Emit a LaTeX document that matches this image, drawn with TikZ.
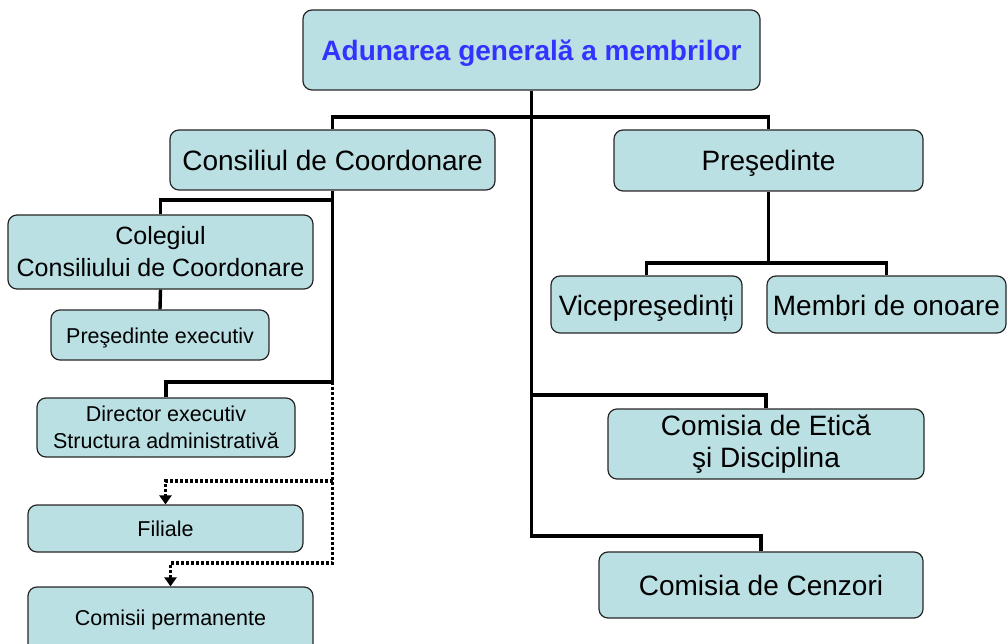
\documentclass[tikz,border=0pt]{standalone}
\usepackage{fontspec}
\setmainfont{Liberation Sans}
\usetikzlibrary{arrows.meta}

\definecolor{boxblue}{RGB}{187,224,227}
\definecolor{titleblue}{RGB}{51,51,255}

\tikzset{
	box/.style={draw=black!85, fill=boxblue, rounded corners=9pt, line width=1.2pt, inner sep=0pt, align=center},
	bigfont/.style={font=\fontsize{28}{32}\selectfont},
	bigone/.style={bigfont, text height=21pt, text depth=0pt},
	midfont/.style={font=\fontsize{25}{32}\selectfont},
	smallfont/.style={font=\fontsize{21.5}{27}\selectfont},
	smallone/.style={smallfont, text height=16.5pt, text depth=0pt},
	link/.style={line width=3.4pt},
	dotlink/.style={line width=3.4pt, dash pattern=on 3pt off 2pt, -{Triangle[width=12pt,length=9pt]}}
}

\begin{document}
\begin{tikzpicture}[x=1pt,y=-1pt]
		
		\useasboundingbox (0,0) rectangle (1008,644);
		
		% top
		\node[box, bigone, minimum width=457pt, minimum height=80pt, text=titleblue] (adunare) at (531.5,50) {\bfseries Adunarea general\u{a} a membrilor};
		
		% second level
		\node[box, bigone, minimum width=325pt, minimum height=60pt] (consiliu) at (332.5,160) {Consiliul de Coordonare};
		\node[box, bigone, minimum width=309pt, minimum height=61pt] (presedinte) at (768.5,160.5) {Preşedinte};
		
		% left column
		\node[box, midfont, minimum width=305pt, minimum height=74pt] (colegiu) at (160.5,252) {Colegiul\\Consiliului de Coordonare};
		\node[box, smallone, minimum width=218pt, minimum height=50pt] (pexec) at (160,335) {Preşedinte executiv};
		\node[box, smallfont, minimum width=258pt, minimum height=59pt] (director) at (166,427.5) {Director executiv\\Structura administrativă};
		\node[box, smallone, minimum width=275pt, minimum height=47pt] (filiale) at (165.5,528.5) {Filiale};
		\node[box, smallone, minimum width=285pt, minimum height=73pt] (comisii) at (170.5,623.5) {\raisebox{6pt}{Comisii permanente}};
		
		% right column
		\node[box, bigone, minimum width=191pt, minimum height=57pt] (vice) at (646.5,304.5) {Vicepreşedinți};
		\node[box, bigone, minimum width=239pt, minimum height=57pt] (membri) at (886.5,304.5) {Membri de onoare};
		\node[box, bigfont, minimum width=316pt, minimum height=70pt] (etica) at (766,444) {Comisia de Etică\\şi Disciplina};
		\node[box, bigone, minimum width=324pt, minimum height=66pt] (cenzori) at (761,585) {Comisia de Cenzori};
		
		% junctions
		\coordinate (jtop) at (531.5,117);
		\coordinate (jetica) at (531.5,395);
		\coordinate (jcenz) at (531.5,536);
		\coordinate (jpres) at (768.5,263);
		\coordinate (jcoleg) at (332.5,200);
		\coordinate (jdir) at (332.5,382);
		\coordinate (jfil) at (332.5,481);
		\coordinate (jcom) at (332.5,563);
		
		% solid links
		\draw[link] (adunare.south) -- (jtop);
		\draw[link] (consiliu.north) |- (jtop) -| (presedinte.north);
		\draw[link] (jtop) -- (jcenz) -| (cenzori.north);
		\draw[link] (jetica) -| (etica.north);
		\draw[link] (presedinte.south) -- (jpres);
		\draw[link] (vice.north) |- (jpres) -| (membri.north);
		\draw[link] (consiliu.south) -- (jdir) -| (director.north);
		\draw[link] (jcoleg) -| (colegiu.north);
		\draw[link] (colegiu.south) -- (pexec.north);
		
		% dotted links
		\draw[dotlink] (jdir) -- (jcom) -| (comisii.north);
		\draw[dotlink] (jfil) -| (filiale.north);
	\end{tikzpicture}
\end{document}
